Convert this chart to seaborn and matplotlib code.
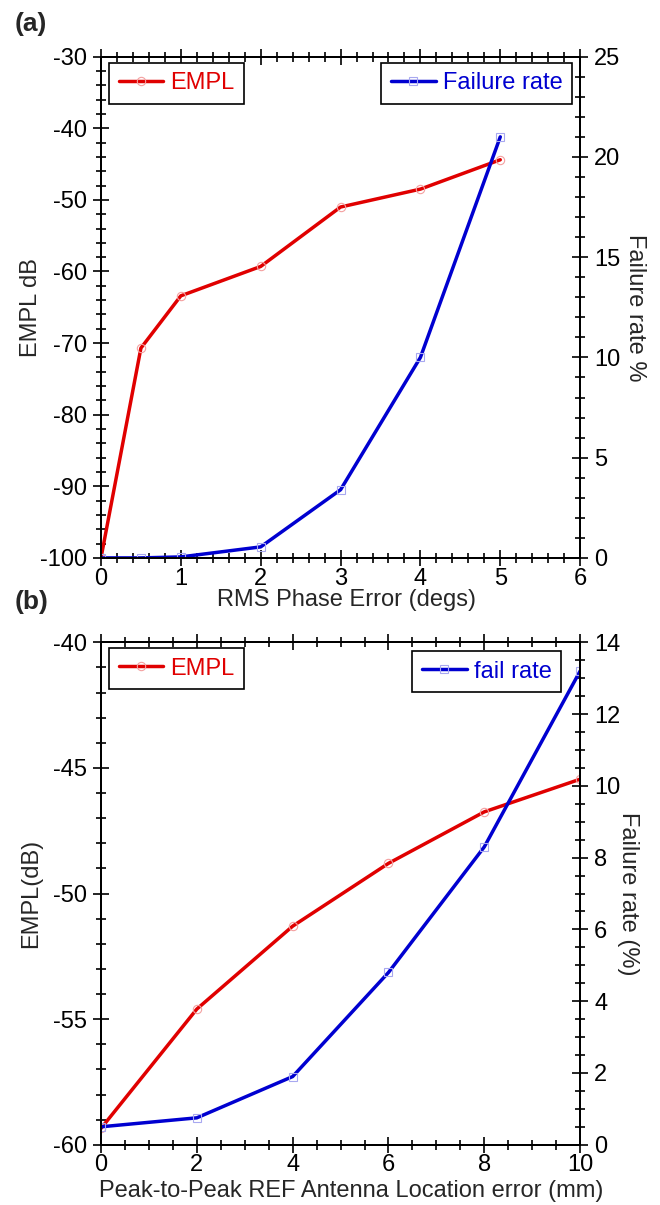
import matplotlib
matplotlib.use("Agg")
import matplotlib.pyplot as plt
import seaborn as sns
from matplotlib.ticker import MultipleLocator

# values
phase_err = [0, 0.5, 1, 2, 3, 4, 5]
empl_a = [-100, -70.7, -63.4, -59.3, -51.0, -48.5, -44.4]
fail_a = [0, 0, 0.05, 0.55, 3.4, 10.0, 21.0]

loc_err = [0, 2, 4, 6, 8, 10]
empl_b = [-59.35, -54.6, -51.3, -48.8, -46.75, -45.45]
fail_b = [0.5, 0.75, 1.9, 4.8, 8.3, 13.2]

sns.set_style("ticks")
plt.rcParams['font.family'] = ['Liberation Sans', 'DejaVu Sans']
plt.rcParams['axes.unicode_minus'] = False

RED = "#e00000"
BLUE = "#0000d0"
FS = 17

fig = plt.figure(figsize=(6.6, 12.05), dpi=100)
ax_a = fig.add_axes([0.153, 0.537, 0.726, 0.416])
ax_b = fig.add_axes([0.153, 0.050, 0.726, 0.417])


def style_axis(ax, ax2):
    for a in (ax, ax2):
        for s in a.spines.values():
            s.set_visible(True)
            s.set_linewidth(1.4)
            s.set_color("black")
    ax.tick_params(axis='x', which='both', direction='inout', top=True, bottom=True,
                   labelsize=FS, pad=1, width=1.2, colors='black')
    ax.tick_params(axis='y', which='both', direction='inout', left=True, right=False,
                   labelsize=FS, pad=4, width=1.2, colors='black')
    ax2.tick_params(axis='y', which='both', direction='inout', right=True, left=False,
                    labelsize=FS, pad=4, width=1.2, colors='black')
    for a in (ax, ax2):
        a.tick_params(which='major', length=12)
        a.tick_params(which='minor', length=7)


def draw_panel(ax, x, empl, fail, fail_label, xlabel, ylabel_l, ylabel_r,
               xlim, xmaj, xmin, ylim_l, ymaj_l, ymin_l, ylim_r, ymaj_r, ymin_r,
               leg_r_x, leg_r_y, xlabel_x, xlabel_y, ylabel_r_x):
    ax2 = ax.twinx()
    sns.lineplot(x=x, y=empl, ax=ax, color=RED, lw=2.5, marker='o', markersize=6,
                 markerfacecolor='none', markeredgecolor="#f4a0a0", markeredgewidth=0.8,
                 label="EMPL", legend=False)
    sns.lineplot(x=x, y=fail, ax=ax2, color=BLUE, lw=2.5, marker='s', markersize=6,
                 markerfacecolor='none', markeredgecolor="#a8a8f0", markeredgewidth=0.8,
                 label=fail_label, legend=False)
    ax.set_xlim(*xlim)
    ax.set_ylim(*ylim_l)
    ax2.set_ylim(*ylim_r)
    ax.xaxis.set_major_locator(MultipleLocator(xmaj))
    ax.xaxis.set_minor_locator(MultipleLocator(xmin))
    ax.yaxis.set_major_locator(MultipleLocator(ymaj_l))
    ax.yaxis.set_minor_locator(MultipleLocator(ymin_l))
    ax2.yaxis.set_major_locator(MultipleLocator(ymaj_r))
    ax2.yaxis.set_minor_locator(MultipleLocator(ymin_r))
    style_axis(ax, ax2)

    ax.set_xlabel(xlabel, fontsize=FS)
    ax.xaxis.set_label_coords(xlabel_x, xlabel_y)
    ax.set_ylabel(ylabel_l, fontsize=FS)
    ax.yaxis.set_label_coords(-0.123, 0.5)
    ax2.set_ylabel(ylabel_r, fontsize=FS, rotation=270, va='center')
    ax2.yaxis.set_label_coords(ylabel_r_x, 0.5)

    leg_kw = dict(frameon=True, fancybox=False, edgecolor='black', framealpha=1,
                  fontsize=FS, handlelength=1.9, handletextpad=0.3, borderpad=0.4,
                  borderaxespad=0, labelcolor='linecolor')
    h, l = ax.get_legend_handles_labels()
    lg = ax.legend(h, l, loc='upper left', bbox_to_anchor=(0.017, 0.988), **leg_kw)
    lg.get_frame().set_linewidth(1.2)
    h2, l2 = ax2.get_legend_handles_labels()
    lg2 = ax2.legend(h2, l2, loc='upper right', bbox_to_anchor=(leg_r_x, leg_r_y), **leg_kw)
    lg2.get_frame().set_linewidth(1.2)
    return ax2


draw_panel(ax_a, phase_err, empl_a, fail_a, "Failure rate", "RMS Phase Error (degs)",
           "EMPL dB", "Failure rate %",
           (0, 6), 1, 0.2, (-100, -30), 10, 2, (0, 25), 5, 1,
           0.983, 0.988, 0.513, -0.062, 1.115)

draw_panel(ax_b, loc_err, empl_b, fail_b, "fail rate",
           "Peak-to-Peak REF Antenna Location error (mm)",
           "EMPL(dB)", "Failure rate (%)",
           (0, 10), 2, 0.5, (-60, -40), 5, 1, (0, 14), 2, 0.5,
           0.960, 0.982, 0.523, -0.070, 1.100)

fig.text(0.022, 0.990, "(a)", fontsize=19, fontweight='bold', va='top', ha='left')
fig.text(0.022, 0.510, "(b)", fontsize=19, fontweight='bold', va='top', ha='left')

fig.savefig("out.png", dpi=100)
